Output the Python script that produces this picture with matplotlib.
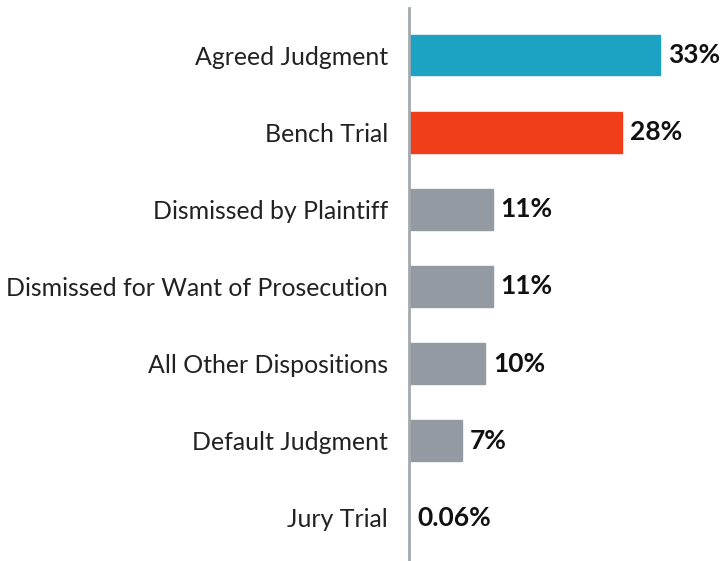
import matplotlib
matplotlib.use("Agg")
import matplotlib.pyplot as plt

# Data
#---------------------------
categories = ["Agreed Judgment", "Bench Trial", "Dismissed by Plaintiff",
              "Dismissed for Want of Prosecution", "All Other Dispositions",
              "Default Judgment", "Jury Trial"]
values = [33, 28, 11, 11, 10, 7, 0.06]
value_labels = ["33%", "28%", "11%", "11%", "10%", "7%", "0.06%"]

BLUE = "#1ca2c3"
RED = "#f03e1a"
GRAY = "#939aa2"
bar_colors = [BLUE, RED] + [GRAY] * 5

plt.rcParams['font.family'] = ['Lato', 'DejaVu Sans']

fig = plt.figure(figsize=(7.28, 5.61), dpi=100)
ax = fig.add_axes([409 / 728, 0, 319 / 728, 553 / 561])

y = list(range(len(categories)))
ax.barh(y, values, height=0.53, color=bar_colors, edgecolor=bar_colors, linewidth=1)

# value labels at the end of each bar
for yi, v, lab in zip(y, values, value_labels):
    ax.text(v + 1.05, yi, lab, va="center", ha="left", fontsize=19,
            fontweight="bold", color="#111111")

ax.set_xlim(0, 42)
ax.set_ylim(6.56, -0.61)
ax.set_yticks(y)
ax.set_yticklabels(categories, fontsize=17.9, color="#222222")
ax.tick_params(axis="y", length=0, pad=15)
ax.set_xticks([])

for s in ["top", "right", "bottom"]:
    ax.spines[s].set_visible(False)
ax.spines["left"].set_color("#a3a9af")
ax.spines["left"].set_linewidth(2)
ax.spines["left"].set_zorder(3)

fig.savefig("out.png", dpi=100)
